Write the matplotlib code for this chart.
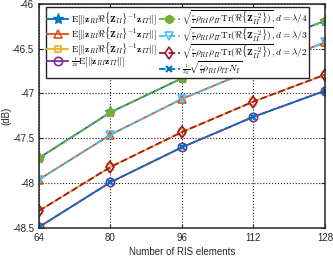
import matplotlib
matplotlib.use("Agg")
import matplotlib.pyplot as plt

plt.rcParams['font.family'] = ['Liberation Sans', 'DejaVu Sans']
plt.rcParams['mathtext.fontset'] = 'cm'

n_elements = [64, 80, 96, 112, 128]

# solid curves (expectation) and dashed curves (approximation) share values
d_quarter = [-47.72, -47.21, -46.83, -46.49, -46.19]
d_third = [-47.96, -47.46, -47.06, -46.73, -46.43]
d_half = [-48.31, -47.82, -47.43, -47.09, -46.79]
uncoupled = [-48.49, -47.99, -47.60, -47.26, -46.97]

pi4 = r'\genfrac{}{}{0.4}{2}{\pi}{4}'
inv_z = r'\genfrac{}{}{0.4}{2}{1}{Z_{II}}'
lbl_exp = r'$\mathrm{E}[\|\mathbf{z}_{RI}\Re\{\mathbf{Z}_{II}\}^{-1}\mathbf{z}_{IT}\|]$'
lbl_unc = r'$' + inv_z + r'\mathrm{E}[\|\mathbf{z}_{RI}\mathbf{z}_{IT}\|]$'
lbl_apx = (r'$\sqrt{' + pi4 + r'\rho_{RI}\rho_{IT}\mathrm{Tr}(\Re\{\mathbf{Z}_{II}^{-2}\})}'
           r', d=\lambda/%s$')
lbl_apx_unc = r'$' + inv_z + r'\sqrt{' + pi4 + r'\rho_{RI}\rho_{IT}N_I}$'

blue = (0, 0.447, 0.741)
orange = (0.85, 0.325, 0.098)
yellow = (0.929, 0.694, 0.125)
purple = (0.494, 0.184, 0.556)
green = (0.466, 0.674, 0.188)
cyan = (0.301, 0.745, 0.933)
darkred = (0.635, 0.078, 0.184)

fig = plt.figure(figsize=(3.33, 2.59), dpi=100)
ax = fig.add_axes([0.117, 0.12, 0.859, 0.865])

lw = 1.3
ms = 6
ax.plot(n_elements, d_quarter, '-', color=blue, lw=lw, marker='*', ms=ms + 2,
        mfc=blue, mec=blue, label=lbl_exp)
ax.plot(n_elements, d_third, '-', color=orange, lw=lw, marker='^', ms=ms,
        mfc='none', mec=orange, mew=1.2, label=lbl_exp)
ax.plot(n_elements, d_half, '-', color=yellow, lw=lw, marker='s', ms=ms - 1,
        mfc='none', mec=yellow, mew=1.2, label=lbl_exp)
ax.plot(n_elements, uncoupled, '-', color=purple, lw=lw, marker='o', ms=ms,
        mfc='none', mec=purple, mew=1.2, label=lbl_unc)
ax.plot(n_elements, d_quarter, '--', color=green, lw=lw, marker='h', ms=ms,
        mfc=green, mec=green, label=lbl_apx % '4')
ax.plot(n_elements, d_third, '--', color=cyan, lw=lw, marker='v', ms=ms,
        mfc='none', mec=cyan, mew=1.2, label=lbl_apx % '3')
ax.plot(n_elements, d_half, '--', color=darkred, lw=lw, marker='d', ms=ms,
        mfc='none', mec=darkred, mew=1.2, label=lbl_apx % '2')
ax.plot(n_elements, uncoupled, '--', color=blue, lw=lw, marker='x', ms=ms - 1,
        mec=blue, mew=1.5, label=lbl_apx_unc)

ax.set_xlim(64, 128)
ax.set_ylim(-48.5, -46)
ax.set_xticks(n_elements)
ax.set_yticks([-48.5, -48, -47.5, -47, -46.5, -46])
ax.set_yticklabels(['-48.5', '-48', '-47.5', '-47', '-46.5', '-46'])
ax.tick_params(direction='in', labelsize=7, length=3, colors='#262626',
               top=True, right=True)
ax.grid(True, linestyle=':', color='#222222', lw=0.8)
for s in ax.spines.values():
    s.set_color('#262626')
    s.set_linewidth(1.1)

ax.set_xlabel('Number of RIS elements', fontsize=7, color='#262626', labelpad=3)
ax.set_ylabel('(dB)', fontsize=7, color='#262626')
ax.yaxis.set_label_coords(-0.096, 0.5)

leg = ax.legend(ncol=2, loc='upper left', bbox_to_anchor=(0.0245, 0.987),
                borderaxespad=0, fontsize=6.7, fancybox=False, framealpha=1,
                edgecolor='#222222', handlelength=2.2, handletextpad=0.3,
                columnspacing=0.3, labelspacing=-0.15, borderpad=0.15)
leg.get_frame().set_linewidth(1.0)

fig.savefig('out.png', dpi=100)
